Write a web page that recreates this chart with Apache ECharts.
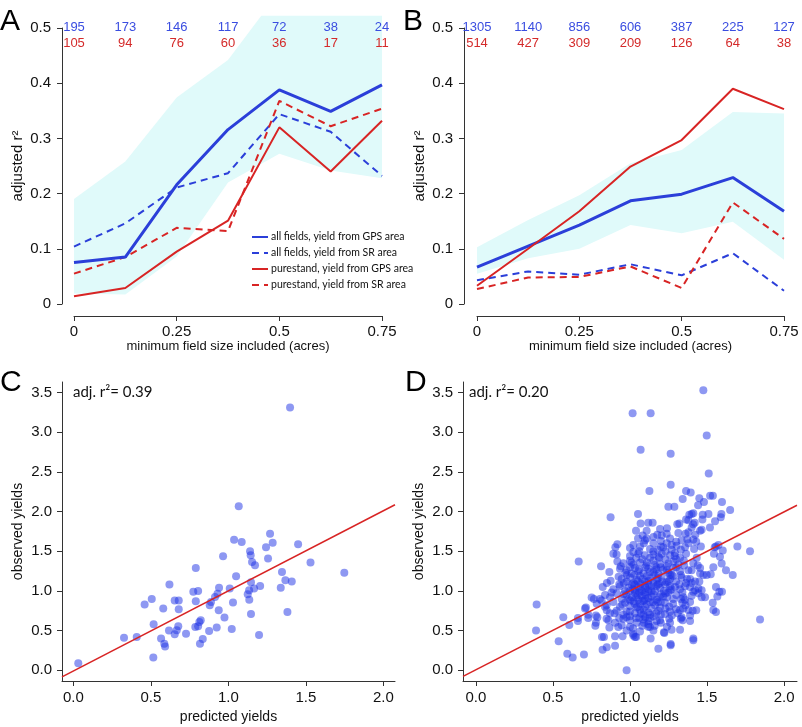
<!DOCTYPE html>
<html>
<head>
<meta charset="utf-8">
<script src="https://cdn.jsdelivr.net/npm/echarts@6/dist/echarts.min.js"></script>
<style>
html, body { margin: 0; padding: 0; background: #fff; }
#chart { width: 802px; height: 727px; }
</style>
</head>
<body>
<div id="chart"></div>
<script>
// x positions of the top panels (minimum field size, acres)
const fieldSizes = [0, 0.125, 0.25, 0.375, 0.5, 0.625, 0.75];

// panel A
const aCountAll  = [195, 173, 146, 117, 72, 38, 24];
const aCountPure = [105, 94, 76, 60, 36, 17, 11];
const aAllGps  = [0.075, 0.085, 0.216, 0.316, 0.388, 0.349, 0.397];
const aAllSr   = [0.104, 0.146, 0.211, 0.237, 0.344, 0.312, 0.232];
const aPureGps = [0.014, 0.029, 0.095, 0.151, 0.320, 0.240, 0.332];
const aPureSr  = [0.055, 0.085, 0.138, 0.132, 0.368, 0.322, 0.354];
const aBandUpX = [0, 0.125, 0.25, 0.375, 0.456, 0.5, 0.625, 0.75];
const aBandUp  = [0.19, 0.258, 0.374, 0.442, 0.522, 0.522, 0.522, 0.522];
const aBandLow = [0.019, 0.017, 0.086, 0.22, 0.272, 0.242, 0.228];

// panel B
const bCountAll  = [1305, 1140, 856, 606, 387, 225, 127];
const bCountPure = [514, 427, 309, 209, 126, 64, 38];
const bAllGps  = [0.067, 0.105, 0.143, 0.187, 0.199, 0.229, 0.168];
const bAllSr   = [0.043, 0.059, 0.053, 0.072, 0.052, 0.092, 0.024];
const bPureGps = [0.033, 0.100, 0.168, 0.249, 0.297, 0.390, 0.353];
const bPureSr  = [0.027, 0.048, 0.049, 0.068, 0.029, 0.184, 0.118];
const bBandUp  = [0.103, 0.152, 0.197, 0.255, 0.279, 0.348, 0.345];
const bBandLow = [0.055, 0.083, 0.100, 0.143, 0.128, 0.149, 0.080];

// panel C: [predicted, observed]
const obsC = [
  [0.032,0.09],[0.327,0.41],[0.409,0.42],[0.46,0.83],[0.506,0.9],[0.518,0.58],[0.516,0.16],[0.58,0.78],
  [0.62,1.08],[0.566,0.4],[0.587,0.336],[0.592,0.3],[0.617,0.5],[0.654,0.88],[0.654,0.454],[0.68,0.88],
  [0.68,0.77],[0.677,0.555],[0.667,0.504],[0.727,0.46],[0.774,0.99],[0.79,1.29],[0.79,0.87],[0.805,1.0],
  [0.787,0.546],[0.805,0.555],[0.813,0.61],[0.822,0.63],[0.817,0.336],[0.835,0.395],[0.876,0.496],[0.88,0.82],
  [0.888,0.86],[0.914,0.924],[0.925,0.54],[0.938,0.756],[0.94,1.04],[0.93,0.966],[0.966,1.437],[0.975,0.664],
  [1.009,1.03],[1.022,0.52],[1.03,0.853],[1.037,1.647],[1.05,1.185],[1.067,2.067],[1.086,1.617],[1.125,0.96],
  [1.134,1.01],[1.135,0.89],[1.14,1.5],[1.144,1.45],[1.153,1.365],[1.146,0.71],[1.146,1.11],[1.166,1.03],
  [1.172,1.323],[1.198,0.445],[1.205,1.063],[1.243,1.55],[1.256,1.41],[1.269,1.722],[1.286,1.608],[1.338,1.04],
  [1.346,1.24],[1.368,1.134],[1.381,0.735],[1.398,3.311],[1.409,1.12],[1.45,1.59],[1.53,1.36],[1.748,1.231]
];
const fitC = [[-0.073, -0.084], [2.075, 2.087]];

// panel D: [predicted, observed]
const obsD = [
  [1.476,3.53],[1.017,3.24],[1.134,3.24],[1.498,2.96],[1.069,2.78],[1.264,2.73],[1.511,2.48],[1.264,2.34],
  [1.126,2.26],[1.364,2.26],[1.394,2.24],[1.52,2.2],[1.538,2.2],[1.342,2.16],[1.45,2.17],[1.48,2.12],
  [1.597,2.12],[1.442,2.08],[1.249,2.06],[1.288,2.06],[1.65,2.02],
  [0.874,1.93],[1.052,1.97],[1.385,1.96],[1.40,1.97],[1.411,1.98],[1.472,1.96],[1.509,1.97],[1.593,1.97],[1.589,1.93],
  [1.069,1.85],[1.119,1.86],[1.147,1.86],[1.32,1.85],[1.364,1.9],[1.379,1.89],[1.552,1.88],[1.307,1.84],[1.41,1.84],
  [1.039,1.76],[1.108,1.76],[1.314,1.73],[1.379,1.74],[1.455,1.76],[1.465,1.77],[1.519,1.8],[1.195,1.78],[1.4,1.8],[1.24,1.79],
  [1.052,1.66],[1.082,1.7],[1.097,1.64],[1.177,1.71],[1.206,1.70],[1.238,1.72],[1.152,1.68],[1.335,1.64],
  [1.372,1.65],[1.411,1.65],[1.424,1.71],[1.108,1.66],[1.26,1.66],[1.2,1.63],[1.3,1.62],
  [0.905,1.55],[0.918,1.59],[1.0,1.54],[1.022,1.58],[1.065,1.56],[1.152,1.6],[1.216,1.55],[1.238,1.6],
  [1.303,1.57],[1.357,1.55],[1.416,1.53],[1.55,1.55],[1.574,1.58],[1.602,1.51],[1.697,1.56],[1.558,1.56],
  [1.13,1.53],[1.27,1.52],[1.09,1.6],
  [0.892,1.47],[0.913,1.46],[1.0,1.44],[1.022,1.49],[1.054,1.47],[1.097,1.45],[1.152,1.5],[1.184,1.43],
  [1.206,1.47],[1.26,1.45],[1.292,1.48],[1.325,1.42],[1.364,1.47],[1.433,1.42],[1.584,1.43],[1.779,1.5],
  [1.545,1.47],[1.13,1.42],[1.04,1.42],[1.23,1.5],
  [0.667,1.37],[0.918,1.37],[0.957,1.35],[1.0,1.38],[1.022,1.33],[1.065,1.36],[1.108,1.32],[1.152,1.38],
  [1.195,1.34],[1.238,1.31],[1.281,1.37],[1.314,1.33],[1.351,1.32],[1.411,1.35],[1.455,1.29],[1.541,1.3],
  [1.595,1.345],[1.08,1.4],[1.17,1.3],[1.23,1.4],[1.3,1.4],[0.94,1.31],
  [0.812,1.31],[0.866,1.24],[0.935,1.28],[0.978,1.26],[1.011,1.22],[1.032,1.29],[1.054,1.25],[1.087,1.22],
  [1.119,1.28],[1.152,1.24],[1.184,1.21],[1.216,1.27],[1.249,1.23],[1.281,1.29],[1.325,1.25],[1.379,1.26],
  [1.455,1.22],[1.476,1.2],[1.498,1.2],[1.524,1.21],[1.623,1.26],[1.667,1.2],[1.1,1.3],[1.2,1.3],[1.0,1.3],[1.27,1.2],
  [0.874,1.13],[0.926,1.18],[0.946,1.15],[0.978,1.12],[1.0,1.17],[1.022,1.1],[1.043,1.14],[1.065,1.19],
  [1.097,1.12],[1.13,1.16],[1.152,1.1],[1.173,1.14],[1.206,1.18],[1.238,1.11],[1.26,1.15],[1.299,1.12],
  [1.335,1.17],[1.364,1.1],[1.39,1.15],[1.422,1.12],[1.11,1.19],[1.19,1.09],[1.03,1.2],[1.28,1.19],[0.96,1.1],
  [0.823,1.05],[0.892,1.02],[0.935,1.06],[0.968,1.0],[0.989,1.04],[1.011,1.08],[1.032,1.01],[1.054,1.05],
  [1.076,1.0],[1.097,1.07],[1.119,1.02],[1.141,1.06],[1.162,1.0],[1.195,1.04],[1.227,1.08],[1.26,1.01],
  [1.292,1.05],[1.325,1.02],[1.357,1.06],[1.411,0.99],[1.422,1.01],[1.558,1.05],[1.597,0.99],[1.465,1.01],
  [1.444,1.03],[1.07,1.09],[1.18,1.08],[1.0,1.0],[1.12,0.99],
  [0.766,0.9],[0.751,0.916],[0.805,0.9],[0.838,0.95],[0.87,0.92],[0.913,0.97],[0.946,0.9],[0.978,0.95],
  [1.011,0.92],[1.032,0.97],[1.054,0.89],[1.076,0.94],[1.097,0.98],[1.119,0.91],[1.152,0.96],[1.173,0.89],
  [1.216,0.93],[1.249,0.98],[1.281,0.9],[1.346,0.92],[1.357,0.89],[1.444,0.97],[1.465,0.92],[1.487,0.92],
  [1.567,0.93],[1.58,0.99],[1.09,0.88],[1.14,0.93],[1.0,0.88],[1.2,0.96],[1.05,0.95],[1.1,0.95],
  [0.394,0.83],[0.714,0.79],[0.784,0.84],[0.816,0.88],[0.848,0.82],[0.892,0.86],[0.935,0.8],
  [0.968,0.85],[1.0,0.81],[1.022,0.87],[1.043,0.79],[1.065,0.84],[1.097,0.8],[1.13,0.86],[1.162,0.82],
  [1.195,0.79],[1.227,0.85],[1.255,0.8],[1.299,0.77],[1.346,0.78],[1.39,0.86],[1.537,0.85],[1.34,0.85],
  [1.11,0.83],[1.18,0.86],[1.08,0.87],
  [0.567,0.67],[0.662,0.66],[0.708,0.78],[0.729,0.7],[0.779,0.69],[0.788,0.67],[0.838,0.8],[0.849,0.756],
  [0.87,0.72],[0.913,0.75],[0.957,0.7],[0.978,0.74],[1.0,0.68],[1.032,0.72],[1.065,0.76],[1.087,0.7],
  [1.119,0.73],[1.152,0.68],[1.184,0.75],[1.227,0.71],[1.26,0.74],[1.271,0.69],[1.325,0.76],[1.379,0.76],
  [1.39,0.69],[1.407,0.75],[1.43,0.756],[1.541,0.76],[1.558,0.735],[1.1,0.67],[1.2,0.7],
  [0.662,0.62],[0.729,0.66],[0.779,0.6],[0.848,0.65],[0.86,0.63],[0.903,0.6],[0.957,0.65],[0.978,0.67],
  [1.0,0.63],[1.043,0.6],[1.087,0.64],[1.119,0.58],[1.173,0.62],[1.195,0.63],[1.255,0.65],[1.26,0.6],
  [1.33,0.65],[1.335,0.67],[1.342,0.63],[1.39,0.62],[1.844,0.64],[1.13,0.66],[1.06,0.66],
  [0.606,0.57],[0.775,0.563],[0.866,0.54],[0.924,0.546],[0.946,0.567],[0.978,0.5],[1.02,0.53],[1.065,0.49],
  [1.119,0.55],[1.13,0.546],[1.152,0.5],[1.22,0.48],[1.223,0.47],[1.27,0.51],[1.325,0.51],[1.0,0.55],[1.08,0.56],
  [0.39,0.5],[0.537,0.366],[0.818,0.42],[0.831,0.42],[0.903,0.43],[0.952,0.43],[1.02,0.46],[1.022,0.44],
  [1.032,0.42],[1.04,0.42],[1.134,0.4],[1.411,0.4],[1.411,0.378],
  [0.593,0.21],[0.628,0.16],[0.701,0.2],[0.822,0.26],[0.849,0.29],[0.903,0.31],[1.184,0.27],[1.264,0.315],
  [1.264,0.33],[0.978,0.0],
  [0.98,1.2],[1.05,1.12],[1.12,1.08],[1.16,1.2],[1.22,1.0],[1.25,1.12],[1.3,0.95],[1.32,1.08],[1.05,0.8],
  [1.09,0.76],[1.14,0.78],[1.17,0.72],[1.2,0.86],[1.24,0.92],[1.28,0.84],[1.02,1.02],[1.07,1.03],[1.12,1.13],
  [1.18,1.16],[1.24,1.26],[1.3,1.3],[1.35,1.38],[1.4,1.26],[1.44,1.32],[0.99,0.9],[0.95,0.83],[0.9,0.72],
  [0.93,0.66],[1.0,0.74],[1.04,0.66],[1.09,0.6],[1.16,0.56],[1.2,0.6],[1.24,0.55],[1.15,1.46],[1.2,1.56],
  [1.27,1.58],[1.33,1.52],[1.38,1.6],[1.43,1.62],[1.46,1.56],[1.36,1.72],[1.42,1.86],[1.47,1.9],[1.12,0.62],
  [0.88,0.98],[0.85,1.1],[1.27,1.02],[1.34,0.98],[1.39,1.05],
  [1.06,0.98],[1.1,1.04],[1.14,1.0],[1.17,1.06],[1.08,1.15],[1.13,1.24],[1.17,1.27],[1.06,1.27],[1.1,0.9],
  [1.15,0.86],[1.19,0.92],[1.23,0.97],[1.26,1.06],[1.21,1.12],[1.16,1.33],[1.11,1.36],[1.25,1.35],[1.29,1.44],
  [1.19,1.42],[1.04,0.92],[1.03,0.84],[1.07,0.72],[1.13,0.7],[1.23,0.78],[1.31,0.72],[1.36,0.82],[1.33,0.9],
  [1.4,0.94],[1.03,1.08],[0.96,0.96],[0.93,1.08],[0.97,1.23],[1.01,1.36],[1.06,1.5],[1.18,1.52],[1.26,1.2],
  [1.33,1.2],[1.37,1.15],[1.4,1.1],[1.45,1.12]
];
const fitD = [[-0.084, -0.076], [2.084, 2.08]];

const scatterTicksX = [0, 0.5, 1, 1.5, 2];
const scatterTicksY = [0, 0.5, 1, 1.5, 2, 2.5, 3, 3.5];

const legendNames = [
  'all fields, yield from GPS area',
  'all fields, yield from SR area',
  'purestand, yield from GPS area',
  'purestand, yield from SR area'
];

const BLUE = '#2b3fd9';
const RED = '#d82424';
const BAND = '#e0fafa';
const AXIS = '#333';
const FONT = 'Liberation Sans';

let myChart = echarts.init(document.getElementById('chart'));

function pairs(ys) {
  return fieldSizes.map((x, i) => [x, ys[i]]);
}

function band(idx, upX, up, low) {
  return {
    type: 'custom', xAxisIndex: idx, yAxisIndex: idx, z: 1, silent: true,
    data: [[0, 0]],
    renderItem: function (params, api) {
      let pts = [];
      for (let i = 0; i < up.length; i++) pts.push(api.coord([upX[i], up[i]]));
      for (let i = low.length - 1; i >= 0; i--) pts.push(api.coord([fieldSizes[i], low[i]]));
      return { type: 'polygon', shape: { points: pts }, style: { fill: BAND } };
    }
  };
}

function line(idx, name, ys, color, width, dashed) {
  return {
    name: name, type: 'line', xAxisIndex: idx, yAxisIndex: idx, z: dashed ? 3 : 4,
    data: pairs(ys), symbol: 'none', silent: true,
    lineStyle: { color: color, width: width, type: dashed ? [7, 5] : 'solid' },
    itemStyle: { color: color }
  };
}

function topX(idx, off) {
  return {
    gridIndex: idx, type: 'value', min: 0, max: 0.75, interval: 0.25, offset: off,
    axisLine: { onZero: false, lineStyle: { color: AXIS, width: 1 } },
    axisTick: { length: 5, lineStyle: { color: AXIS } },
    axisLabel: { color: '#111', fontSize: 15, fontFamily: FONT, margin: 8 },
    splitLine: { show: false },
    name: 'minimum field size included (acres)', nameLocation: 'middle', nameGap: 24,
    nameTextStyle: { color: '#111', fontSize: 13, fontFamily: FONT }
  };
}

function topY(idx, off) {
  return {
    gridIndex: idx, type: 'value', min: 0, max: 0.5, interval: 0.1, offset: off,
    axisLine: { show: true, onZero: false, lineStyle: { color: AXIS, width: 1 } },
    axisTick: { show: true, length: 5, lineStyle: { color: AXIS } },
    axisLabel: { color: '#111', fontSize: 15, fontFamily: FONT, margin: 11,
      formatter: v => v === 0 ? '0' : v.toFixed(1) },
    splitLine: { show: false },
    name: 'adjusted r²', nameLocation: 'middle', nameGap: 37, nameRotate: 90,
    nameTextStyle: { color: '#111', fontSize: 15, fontFamily: FONT }
  };
}

function scX(idx, min, max) {
  return {
    gridIndex: idx, type: 'value', min: min, max: max,
    axisLine: { onZero: false, lineStyle: { color: AXIS, width: 1 } },
    axisTick: { length: 5, customValues: scatterTicksX, lineStyle: { color: AXIS } },
    axisLabel: { customValues: scatterTicksX, color: '#111', fontSize: 15, fontFamily: FONT, margin: 9,
      formatter: v => v.toFixed(1) },
    splitLine: { show: false },
    name: 'predicted yields', nameLocation: 'middle', nameGap: 29,
    nameTextStyle: { color: '#111', fontSize: 14, fontFamily: FONT }
  };
}

function scY(idx) {
  return {
    gridIndex: idx, type: 'value', min: -0.135, max: 3.634,
    axisLine: { show: true, onZero: false, lineStyle: { color: AXIS, width: 1 } },
    axisTick: { show: true, length: 5, customValues: scatterTicksY, lineStyle: { color: AXIS } },
    axisLabel: { customValues: scatterTicksY, color: '#111', fontSize: 15, fontFamily: FONT, margin: 10,
      formatter: v => v.toFixed(1) },
    splitLine: { show: false },
    name: 'observed yields', nameLocation: 'middle', nameGap: 37, nameRotate: 90,
    nameTextStyle: { color: '#111', fontSize: 14, fontFamily: FONT }
  };
}

function scatter(idx, pts) {
  return {
    type: 'scatter', xAxisIndex: idx, yAxisIndex: idx, z: 2, silent: true,
    data: pts, symbolSize: 8,
    itemStyle: { color: 'rgb(30,50,230)', opacity: 0.5 }
  };
}

function fitLine(idx, pts) {
  return {
    type: 'line', xAxisIndex: idx, yAxisIndex: idx, z: 4, silent: true,
    data: pts, symbol: 'none', lineStyle: { color: RED, width: 1.5 }
  };
}

myChart.setOption({
  animation: false,
  backgroundColor: '#fff',
  grid: [
    { left: 74, top: 28, width: 308, height: 276 },
    { left: 477, top: 28, width: 307, height: 276 },
    { left: 62, top: 382, width: 333, height: 299 },
    { left: 463, top: 382, width: 334, height: 299 }
  ],
  xAxis: [topX(0, 12), topX(1, 12), scX(2, -0.073, 2.075), scX(3, -0.084, 2.084)],
  yAxis: [topY(0, 12), topY(1, 13), scY(2), scY(3)],
  legend: {
    data: legendNames, orient: 'vertical', left: 251, top: 231, padding: 0,
    itemWidth: 16, itemHeight: 10, itemGap: 4, selectedMode: false,
    itemStyle: { opacity: 0 },
    textStyle: { color: '#111', fontSize: 10.5, fontFamily: 'Lato', lineHeight: 12, padding: [0, 0, 0, -2] }
  },
  series: [
    band(0, aBandUpX, aBandUp, aBandLow),
    line(0, legendNames[0], aAllGps, BLUE, 3, false),
    line(0, legendNames[1], aAllSr, BLUE, 2, true),
    line(0, legendNames[2], aPureGps, RED, 2, false),
    line(0, legendNames[3], aPureSr, RED, 2, true),
    band(1, fieldSizes, bBandUp, bBandLow),
    line(1, legendNames[0], bAllGps, BLUE, 3, false),
    line(1, legendNames[1], bAllSr, BLUE, 2, true),
    line(1, legendNames[2], bPureGps, RED, 2, false),
    line(1, legendNames[3], bPureSr, RED, 2, true),
    scatter(2, obsC),
    fitLine(2, fitC),
    scatter(3, obsD),
    fitLine(3, fitD)
  ]
});

// sample-size labels above each x position, letters and r² notes
let texts = [];
function counts(idx, all, pure) {
  fieldSizes.forEach((x, i) => {
    let p = myChart.convertToPixel({ gridIndex: idx }, [x, 0.5]);
    texts.push({ type: 'text', z: 100, x: p[0], y: p[1] - 1, style: { text: String(all[i]), fill: '#3a4de0',
      font: '13px ' + FONT, textAlign: 'center', textVerticalAlign: 'middle' } });
    texts.push({ type: 'text', z: 100, x: p[0], y: p[1] + 15, style: { text: String(pure[i]), fill: '#d42a2a',
      font: '13px ' + FONT, textAlign: 'center', textVerticalAlign: 'middle' } });
  });
}
counts(0, aCountAll, aCountPure);
counts(1, bCountAll, bCountPure);

[['A', 0, 22], ['B', 403, 22], ['C', 0, 383], ['D', 405, 383]].forEach(l => {
  texts.push({ type: 'text', z: 100, x: l[1], y: l[2], style: { text: l[0], fill: '#000',
    font: '30px ' + FONT, textVerticalAlign: 'middle' } });
});
texts.push({ type: 'text', z: 100, x: 73, y: 392, style: { text: 'adj. r²= 0.39', fill: '#111',
  font: '15px Lato', textVerticalAlign: 'middle' } });
texts.push({ type: 'text', z: 100, x: 469, y: 392, style: { text: 'adj. r²= 0.20', fill: '#111',
  font: '15px Lato', textVerticalAlign: 'middle' } });

myChart.setOption({ graphic: texts });
</script>
</body>
</html>
